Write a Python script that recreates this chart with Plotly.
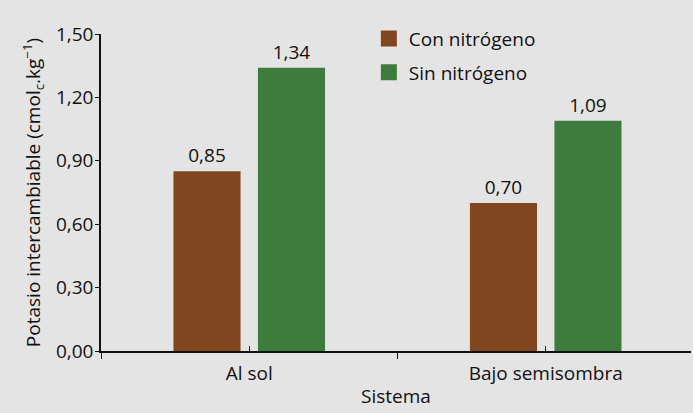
import plotly.graph_objects as go

categories = ["Al sol", "Bajo semisombra"]
series_names = ["Con nitrógeno", "Sin nitrógeno"]
con_nitrogeno = [0.85, 0.70]
sin_nitrogeno = [1.34, 1.09]
y_ticks = [0.0, 0.30, 0.60, 0.90, 1.20, 1.50]

colors = ["#7f461f", "#3e7c3e"]
FONT = "Open Sans"
BG = "#e5e4e4"
INK = "#111111"

fig = go.Figure()
for name, vals, col in zip(series_names, [con_nitrogeno, sin_nitrogeno], colors):
    fig.add_trace(go.Bar(
        x=categories, y=vals, name=name, marker_color=col, marker_line_width=0,
        texttemplate="%{y:.2f}", textposition="outside", cliponaxis=False,
        textfont=dict(family=FONT, size=19, color=INK),
        showlegend=False,
    ))
# legend entries (square symbols) on the overlay axis that carries the centre ticks
for i, (name, col) in enumerate(zip(series_names, colors)):
    fig.add_trace(go.Scatter(
        x=categories, y=[None, None], mode="markers", name=name,
        marker=dict(symbol="square", size=16, color=col),
        xaxis="x2", legendgroup=f"g{i}", showlegend=True,
    ))

fig.update_layout(
    width=693, height=413,
    paper_bgcolor=BG, plot_bgcolor=BG,
    margin=dict(l=101, r=2, t=34, b=62),
    separators=",.",
    barmode="group", bargap=0.43, bargroupgap=0.206,
    font=dict(family=FONT, size=18, color=INK),
    xaxis=dict(
        type="category", range=[-0.5, 1.49], tickson="boundaries",
        ticks="outside", ticklen=6, tickwidth=1.3, tickcolor=INK,
        showline=True, linecolor=INK, linewidth=1.5, showgrid=False,
        tickfont=dict(family=FONT, size=19), ticklabelstandoff=4,
        title=dict(text="Sistema", font=dict(family=FONT, size=19), standoff=5),
    ),
    xaxis2=dict(
        type="category", range=[-0.5, 1.49], overlaying="x", side="bottom",
        ticks="inside", ticklen=5, tickwidth=1.3, tickcolor=INK,
        showticklabels=False, showline=False, showgrid=False,
    ),
    yaxis=dict(
        range=[0, 1.5], tickvals=y_ticks, tickformat=".2f",
        ticks="outside", ticklen=4, tickwidth=1.3, tickcolor=INK,
        showline=True, linecolor=INK, linewidth=1.5, showgrid=False, zeroline=False,
        tickfont=dict(family=FONT, size=19), ticklabelstandoff=-2,
        title=dict(text="Potasio intercambiable (cmol<sub>c</sub>.kg<sup>−1</sup>)",
                   font=dict(family=FONT, size=19), standoff=10),
    ),
    legend=dict(
        x=0.454, xanchor="left", y=1.045, yanchor="top",
        bgcolor="rgba(0,0,0,0)", borderwidth=0,
        traceorder="grouped", tracegroupgap=6,
        font=dict(family=FONT, size=19),
    ),
)

fig.write_html(
    "out.html",
    config={"displayModeBar": False},
    post_script=f"document.body.style.margin='0';document.body.style.background='{BG}';",
)
